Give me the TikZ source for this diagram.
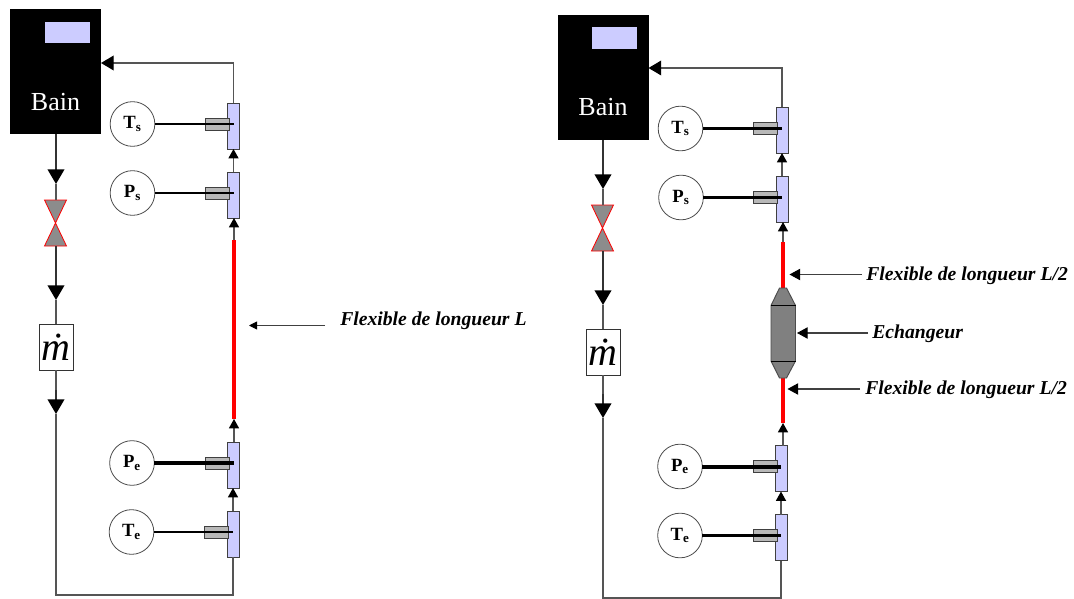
\documentclass[tikz,border=0pt]{standalone}
\usepackage{fontspec}
\setmainfont{Liberation Serif}
\usetikzlibrary{positioning,arrows.meta}
\definecolor{lightblue}{RGB}{204,204,255}
\definecolor{pipegray}{RGB}{85,85,85}
\tikzset{
  bain/.style={fill=black,text=white,minimum width=68.25pt,minimum height=93.75pt,inner sep=0pt,outer sep=0pt},
  display/.style={fill=lightblue,minimum width=33.5pt,minimum height=16pt,inner sep=0pt},
  tee/.style={draw=black!75,fill=lightblue,line width=0.7pt,minimum width=9pt,minimum height=34.5pt,inner sep=0pt,outer sep=0pt},
  sleeve/.style={draw=black!75,fill=black!28,line width=0.7pt,minimum width=18pt,minimum height=9pt,inner sep=0pt,outer sep=0pt},
  gauge/.style={circle,draw=black!70,fill=white,line width=0.6pt,minimum size=33.5pt,inner sep=0pt,outer sep=0pt,font=\fontsize{14}{14}\selectfont\bfseries},
  debit/.style={draw=black!80,fill=white,line width=0.6pt,minimum width=25.5pt,minimum height=34.5pt,inner sep=0pt,outer sep=0pt,font=\fontsize{30}{30}\selectfont\itshape},
  legend/.style={anchor=west,inner sep=0pt,font=\fontsize{14.75}{15}\selectfont\bfseries\itshape},
  pipe/.style={draw=pipegray,line width=1pt},
  feed/.style={draw=black!80,line width=1.4pt},
  bigflow/.style={feed,-{Triangle[length=11pt,width=12.5pt,color=black,fill=black]}},
  smallflow/.style={pipe,-{Triangle[length=7pt,width=7.5pt,fill=black,color=black]}},
  backflow/.style={pipe,-{Triangle[length=9.5pt,width=11pt,fill=black,color=black]}},
  leader/.style={draw=black!75,line width=0.7pt,-{Triangle[length=6pt,width=6pt,fill=black,color=black]}},
  bigleader/.style={draw=black!75,line width=0.8pt,-{Triangle[length=8pt,width=8.5pt,fill=black,color=black]}},
  flexible/.style={draw=red,line width=3pt},
  valve/.style={draw=red,fill=black!45,line width=0.6pt},
  exch/.style={draw=black!70,fill=black!50,line width=0.7pt}
}
\begin{document}
\begin{tikzpicture}[x=0.75pt,y=-0.75pt]
  \useasboundingbox (0,0) rectangle (1074,599);
  % left loop
  \node[bain] (bainL) at (55.5,71.5) {};
  \node[display] (dispL) at (67.2,32.5) {};
  \node[text=white,font=\fontsize{19.5}{20}\selectfont] (bainlabL) at (55.5,102) {Bain};
  \node[debit] (debitL) at (56,347) {\.{m}};
  \coordinate (vtopL) at (56,200);
  \coordinate (vbotL) at (56,246);
  \coordinate (a1L) at (56,184);
  \coordinate (a2L) at (56,300);
  \coordinate (a3L) at (56,414);
  \coordinate (cornerL) at (56,595);
  \coordinate (retourL) at (234,63);
  \coordinate (flextopL) at (234,240);
  \coordinate (flexbotL) at (234,419);
  \draw[valve] (44.5,200) -- (66.5,200) -- (44.5,246) -- (66.5,246) -- cycle;
  % right loop
  \node[bain] (bainR) at (603,77.5) {};
  \node[display] (dispR) at (614.5,38) {};
  \node[text=white,font=\fontsize{19.5}{20}\selectfont] (bainlabR) at (603,107) {Bain};
  \node[debit] (debitR) at (603,352) {\.{m}};
  \coordinate (vtopR) at (603,205);
  \coordinate (vbotR) at (603,251);
  \coordinate (a1R) at (603,189);
  \coordinate (a2R) at (603,305);
  \coordinate (a3R) at (603,418);
  \coordinate (cornerR) at (603,598);
  \coordinate (retourR) at (782,68);
  \coordinate (flextopR) at (783,242);
  \coordinate (flexbotR) at (783,423);
  \coordinate (exctop) at (783,288);
  \coordinate (excbot) at (783,378);
  \draw[valve] (591.5,205) -- (613.5,205) -- (591.5,251) -- (613.5,251) -- cycle;
  % sensors
  \foreach \nm/\ltr/\sub/\cx/\cy/\tx/\ty/\sx/\w in {
      tsL/T/s/132.5/124/233.5/126/217/2pt,
      psL/P/s/132.5/193/233.5/195/217/2pt,
      peL/P/e/132/463/233.5/465/217/3pt,
      teL/T/e/131.5/532/233/534/216/2.2pt,
      tsR/T/s/680.5/128.5/782/130/765.5/2pt,
      psR/P/s/681/197.5/782/199/765.5/2pt,
      peR/P/e/680/466.5/781/468.5/765/3pt,
      teR/T/e/680/535.5/781/537.5/765/2.2pt}{
    \node[tee] (\nm) at (\tx,\ty) {};
    \node[sleeve] (sl\nm) at (\sx,\cy) {};
    \node[gauge] (g\nm) at (\cx,\cy) {\ltr\textsubscript{\sub}};
    \draw[black,line width=\w] (g\nm.east) -- (g\nm.east -| \nm.center);
  }
  % pipes left
  \draw[bigflow] (bainL.south -| a1L) -- (a1L);
  \draw[pipe] (a1L) -- (vtopL);
  \draw[bigflow] (vbotL) -- (a2L);
  \draw[pipe] (a2L) -- (debitL.north);
  \draw[pipe] (debitL.south) -- (56,390);
  \draw[bigflow] (56,390) -- (a3L);
  \draw[pipe] (a3L) -- (cornerL) -- (cornerL -| teL.south) -- (teL.south);
  \draw[smallflow] (teL.north) -- (teL.north |- peL.south);
  \draw[smallflow] (flexbotL |- peL.north) -- (flexbotL);
  \draw[flexible] (flexbotL) -- (flextopL);
  \draw[smallflow] (flextopL) -- (flextopL |- psL.south);
  \draw[smallflow] (psL.north) -- (psL.north |- tsL.south);
  \draw[backflow] (tsL.north) |- (bainL.east |- retourL);
  % pipes right
  \draw[bigflow] (bainR.south -| a1R) -- (a1R);
  \draw[pipe] (a1R) -- (vtopR);
  \draw[bigflow] (vbotR) -- (a2R);
  \draw[pipe] (a2R) -- (debitR.north);
  \draw[pipe] (debitR.south) -- (603,394);
  \draw[bigflow] (603,394) -- (a3R);
  \draw[pipe] (a3R) -- (cornerR) -- (cornerR -| teR.south) -- (teR.south);
  \draw[smallflow] (teR.north) -- (teR.north |- peR.south);
  \draw[smallflow] (flexbotR |- peR.north) -- (flexbotR);
  \draw[flexible] (flexbotR) -- (excbot);
  \draw[flexible] (exctop) -- (flextopR);
  \draw[smallflow] (flextopR) -- (flextopR |- psR.south);
  \draw[smallflow] (psR.north) -- (psR.north |- tsR.south);
  \draw[backflow] (tsR.north) |- (bainR.east |- retourR);
  % exchanger
  \draw[exch] (771,305.5) -- (779.5,288) -- (786.5,288) -- (795.5,305.5) -- (795.5,361) -- (786.5,378) -- (779.5,378) -- (771,361) -- cycle;
  \draw[black,line width=0.7pt] (771,305.5) -- (795.5,305.5);
  \draw[black,line width=0.7pt] (771,361) -- (795.5,361);
  % legends
  \node[legend] (legL) at (340,321) {Flexible de longueur L};
  \coordinate (tipL) at (249,325.5);
  \coordinate (startL) at (325,325.5);
  \draw[leader] (startL) -- (tipL);
  \node[legend] (leg1) at (866,275.5) {Flexible de longueur L/2};
  \node[legend] (leg2) at (872,334) {Echangeur};
  \node[legend] (leg3) at (865,390) {Flexible de longueur L/2};
  \coordinate (tip1) at (789.5,274.5);
  \coordinate (tip2) at (797,333);
  \coordinate (tip3) at (787.5,389);
  \draw[bigleader] (leg1.west) ++(-4,-1) -- (tip1);
  \draw[bigleader] (leg2.west) ++(-4,-1) -- (tip2);
  \draw[bigleader] (leg3.west) ++(-5,-1) -- (tip3);
\end{tikzpicture}
\end{document}
